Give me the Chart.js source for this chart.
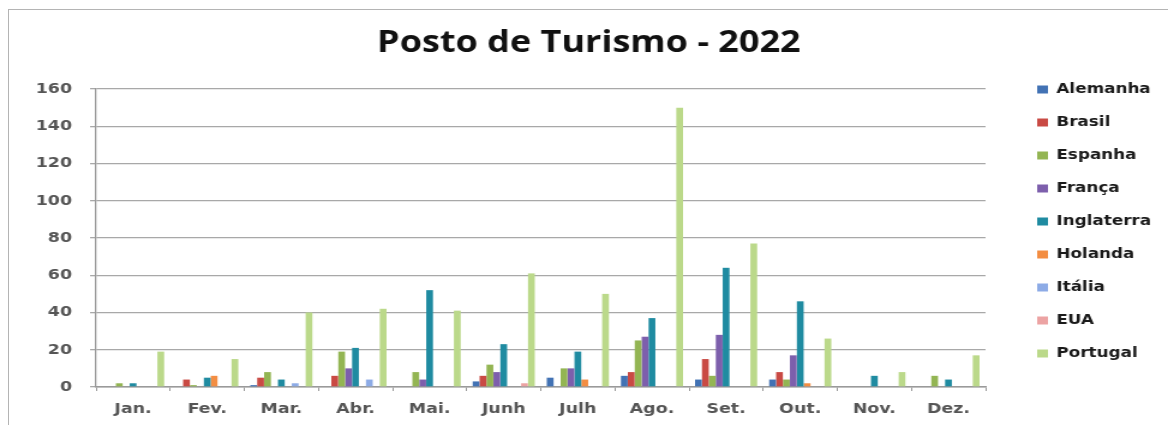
<!DOCTYPE html>
<html>
<head>
<meta charset="utf-8">
<script src="https://cdn.jsdelivr.net/npm/chart.js@4.4.1/dist/chart.umd.min.js"></script>
<style>
  html, body { margin: 0; padding: 0; background: #ffffff; }
  #wrap { position: relative; width: 1168px; height: 425px; overflow: hidden; }
  #frame { position: absolute; left: 8px; top: 9px; width: 1170px; height: 430px;
           border-top: 1px solid #b4b4b4; border-left: 1px solid #b4b4b4; pointer-events: none; }
  canvas { position: absolute; left: 0; top: 0; }
</style>
</head>
<body>
<div id="wrap">
  <canvas id="c" width="973" height="425" style="width:1168px;height:425px;"></canvas>
  <div id="frame"></div>
</div>
<script>
const categories = ['Jan.', 'Fev.', 'Mar.', 'Abr.', 'Mai.', 'Junh', 'Julh', 'Ago.', 'Set.', 'Out.', 'Nov.', 'Dez.'];
const seriesNames = ['Alemanha', 'Brasil', 'Espanha', 'França', 'Inglaterra', 'Holanda', 'Itália', 'EUA', 'Portugal'];
const alemanha   = [0, 0, 1, 0, 0, 3, 5, 6, 4, 4, 0, 0];
const brasil     = [0, 4, 5, 6, 0, 6, 0, 8, 15, 8, 0, 0];
const espanha    = [2, 1, 8, 19, 8, 12, 10, 25, 6, 4, 0, 6];
const franca     = [0, 0, 0, 10, 4, 8, 10, 27, 28, 17, 0, 0];
const inglaterra = [2, 5, 4, 21, 52, 23, 19, 37, 64, 46, 6, 4];
const holanda    = [0, 6, 0, 0, 0, 0, 4, 0, 0, 2, 0, 0];
const italia     = [0, 0, 2, 4, 0, 0, 0, 0, 0, 0, 0, 0];
const eua        = [0, 0, 0, 0, 0, 2, 0, 0, 0, 0, 0, 0];
const portugal   = [19, 15, 40, 42, 41, 61, 50, 150, 77, 26, 8, 17];
const yTicks     = [0, 20, 40, 60, 80, 100, 120, 140, 160];

const seriesValues = [alemanha, brasil, espanha, franca, inglaterra, holanda, italia, eua, portugal];
const colors = ['#4272b4', '#c94a44', '#93b553', '#7d5fac', '#1f8ba1', '#f38d42', '#8dabe6', '#eca3a3', '#bbd98a'];

const datasets = seriesNames.map((name, i) => ({
  label: name,
  data: seriesValues[i],
  backgroundColor: colors[i],
  borderColor: colors[i],
  borderWidth: 0,
  categoryPercentage: 0.84,
  barPercentage: 0.98
}));

const LEGEND_WIDTH = 152;
const legendPlace = {
  id: 'legendPlace',
  beforeLayout(chart) {
    const lg = chart.legend;
    if (lg && !lg._patched) {
      const orig = lg.fit;
      lg.fit = function () { orig.call(this); this.width = LEGEND_WIDTH; };
      lg._patched = true;
    }
  },
  afterLayout(chart) {
    const lg = chart.legend;
    if (lg) { lg.left += 24; lg.right += 24; }
  }
};

new Chart(document.getElementById('c'), {
  type: 'bar',
  data: { labels: categories, datasets },
  plugins: [legendPlace],
  options: {
    responsive: false,
    animation: false,
    devicePixelRatio: 1,
    layout: { padding: { left: 8, right: 0, top: 18, bottom: 0 } },
    plugins: {
      title: {
        display: true,
        text: 'Posto de Turismo - 2022',
        color: '#111111',
        font: { family: 'Open Sans', size: 30, weight: 'bold' },
        padding: { top: 7, bottom: 28 }
      },
      legend: {
        display: true,
        position: 'right',
        align: 'center',
        labels: {
          color: '#1a1a1a',
          boxWidth: 9,
          boxHeight: 8,
          padding: 19,
          font: { family: 'DejaVu Sans', size: 14, weight: 'bold' }
        }
      },
      tooltip: { enabled: false }
    },
    scales: {
      x: {
        afterFit(scale) { scale.height = 38; },
        grid: { display: true, offset: true, drawOnChartArea: false, drawTicks: true, tickLength: 4, color: '#9a9a9a' },
        border: { display: true, color: '#9a9a9a', width: 1.5 },
        ticks: { color: '#555555', padding: 10, font: { family: 'DejaVu Sans', size: 14.5, weight: 'bold' } }
      },
      y: {
        min: 0,
        max: 160,
        afterBuildTicks(scale) { scale.ticks = yTicks.map(v => ({ value: v })); },
        afterFit(scale) { scale.width = 72; },
        grid: { display: true, color: '#a8a8a8', lineWidth: 1.3, drawTicks: true, tickLength: 5 },
        border: { display: true, color: '#9a9a9a', width: 1.3 },
        ticks: { color: '#555555', padding: 15, font: { family: 'DejaVu Sans', size: 14.5, weight: 'bold' } }
      }
    }
  }
});
</script>
</body>
</html>
